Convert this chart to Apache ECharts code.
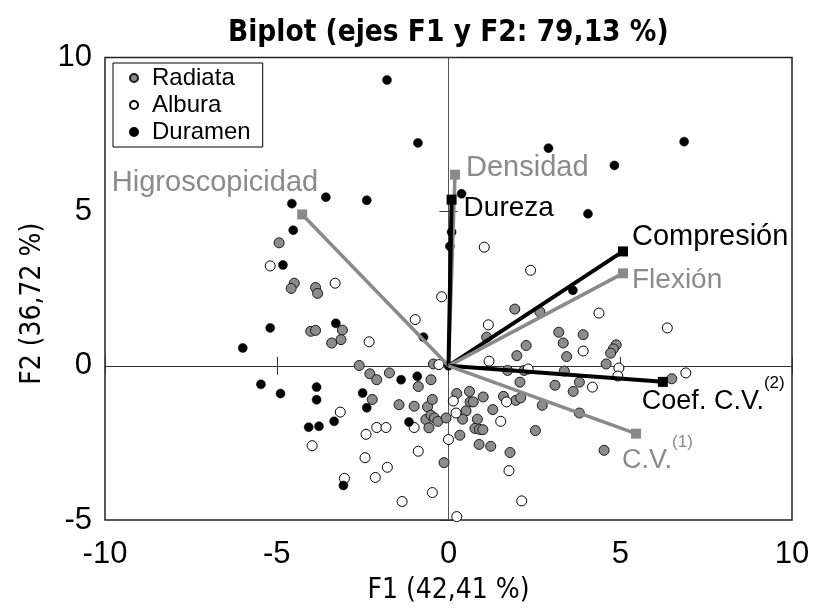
<!DOCTYPE html>
<html><head><meta charset="utf-8">
<script src="https://cdn.jsdelivr.net/npm/echarts@6/dist/echarts.min.js"></script>
<style>html,body{margin:0;padding:0;background:#fff}#c{width:815px;height:610px}</style>
</head><body><div id="c"></div>
<script>
const chartTitle = 'Biplot (ejes F1 y F2: 79,13 %)';
const xName = 'F1 (42,41 %)';
const yName = 'F2 (36,72 %)';
const xMin = -10, xMax = 10, xStep = 5;
const yMin = -5, yMax = 10, yStep = 5;
const seriesNames = ['Radiata', 'Albura', 'Duramen'];

const radiata = [
 [-4.93,3.99],[-4.49,2.68],[-4.58,2.51],[-3.87,2.54],[-3.81,2.35],[-4.01,1.12],[-3.87,1.15],[-3.09,1.16],[-3.13,0.85],[-3.4,0.74],
 [1.93,1.84],[2.66,1.75],[1.11,0.93],[3.21,1.09],[3.92,1.01],[3.34,0.74],[2.26,0.66],[1.99,0.33],[3.44,0.3],
 [4.88,0.68],[4.8,0.55],[4.72,0.41],[4.59,0.06],[3.37,-0.17],[3.1,-0.63],[3.81,-0.53],[3.63,-0.83],[6.5,-0.42],[3.81,-1.53],
 [-2.6,0.01],[-2.29,-0.26],[-2.09,-0.45],[-1.72,-0.23],[-0.88,-0.67],[-0.51,-0.45],[-0.44,0.06],
 [1.72,-0.15],[2.2,-0.15],[2.08,-0.53],
 [-2.22,-1.09],[-1.44,-1.26],[-1.0,-1.31],[-0.61,-1.33],[-0.47,-1.09],[0.24,-0.9],[0.61,-0.83],[0.63,-1.17],[0.72,-1.17],[1.01,-1.01],[1.6,-0.99],[1.96,-1.12],[2.1,-1.04],[2.73,-1.28],
 [0.51,-1.46],[1.29,-1.42],[-0.66,-1.74],[-0.51,-1.6],[-0.41,-1.69],[-0.31,-1.8],[-0.57,-2.01],[-0.07,-1.69],
 [0.41,-1.73],[0.84,-1.73],[0.77,-2.03],[0.9,-2.06],[1.0,-2.07],[2.53,-2.1],[0.33,-2.25],[0.89,-2.55],[1.23,-2.61],[1.79,-2.81],[-0.13,-3.14],[4.53,-2.74]
];
const albura = [
 [-5.19,3.24],[-3.3,2.68],[-2.31,0.78],[-0.97,1.5],[-0.2,2.24],[1.04,3.85],[2.39,3.1],[1.16,1.33],[3.92,0.48],[4.38,1.71],[6.37,1.23],[4.96,-0.07],[4.93,-0.33],[6.91,-0.23],[4.19,-0.69],
 [-0.28,0.04],[1.18,0.15],[2.32,-0.1],[0.14,-1.14],[1.69,-1.17],[0.22,-1.53],[-3.15,-1.5],[-1.0,-2.0],[-2.09,-2.0],[-1.82,-2.0],[-2.4,-2.22],[1.52,-1.8],[0.0,-2.39],[-0.88,-2.77],[-2.43,-2.98],[-1.78,-3.29],[1.76,-3.4],[-2.13,-3.62],[-3.03,-3.65],[-0.47,-4.11],[-1.35,-4.4],[2.13,-4.38],[0.24,-4.89],[-3.97,-2.59]
];
const duramen = [
 [-1.79,9.27],[-0.89,7.23],[-2.38,5.37],[0.38,5.58],[2.91,7.06],[6.86,7.27],[4.83,6.5],[4.06,4.93],[-4.56,5.26],[-3.57,5.47],[-4.52,4.4],[-4.82,3.27],[-5.19,1.23],[-3.28,1.38],[-5.99,0.58],[-0.73,0.93],[0.09,4.34],[0.04,3.88],[3.62,2.45],
 [-1.38,-0.45],[-0.91,-0.34],[0.0,0.0],[-2.5,-0.88],[-2.38,-1.36],[-1.15,-1.82],[-3.06,-3.88],
 [-5.46,-0.6],[-4.89,-0.9],[-3.84,-0.69],[-3.84,-1.1],[-3.33,-1.8],[-4.07,-1.99],[-3.77,-1.96]
];

const vectorNames = ['Higroscopicidad','Densidad','Dureza','Compresión','Flexión','Coef. C.V.','C.V.'];
const vectorSup   = ['','','','','','(2)','(1)'];
const vectorF1 = [-4.26, 0.19, 0.09, 5.08, 5.08, 6.24, 5.46];
const vectorF2 = [ 4.91, 6.20, 5.39, 3.71, 3.00, -0.52, -2.20];

// styles (kept separate from data)
const GRAY = '#8a8a8a';
const vecStyle = {
  'Higroscopicidad': {c: GRAY, w: 3.5, fs: 29, align: 'right', off: [16, -31]},
  'Densidad':        {c: GRAY, w: 3.5, fs: 29, align: 'left',  off: [11, -7]},
  'Dureza':          {c: '#000', w: 4, fs: 28, align: 'left',  off: [12, 9]},
  'Compresión':      {c: '#000', w: 4, fs: 29, align: 'left',  off: [9, -14]},
  'Flexión':         {c: GRAY, w: 3.5, fs: 28, align: 'left',  off: [9, 7]},
  'Coef. C.V.':      {c: '#000', w: 4, fs: 27, align: 'left',  off: [-21, 20]},
  'C.V.':            {c: GRAY, w: 3.5, fs: 27, align: 'left',  off: [-14, 27]}
};
const FONT = '"Liberation Sans", Arial, sans-serif';
const NARROW = '"Liberation Sans Narrow", "DejaVu Sans Condensed", sans-serif';

const vectorSeries = vectorNames.map((n, i) => {
  const s = vecStyle[n];
  const sup = vectorSup[i];
  return {
    type: 'line', name: n, z: 5, silent: true, animation: false,
    lineStyle: {color: s.c, width: s.w},
    itemStyle: {color: s.c},
    data: [
      {value: [0, 0], symbol: 'none', label: {show: false}},
      {value: [vectorF1[i], vectorF2[i]], symbol: 'rect', symbolSize: 10,
       label: {
         show: true, position: 'inside', align: s.align, verticalAlign: 'middle', offset: s.off,
         formatter: sup ? '{m|' + n + '}{s|' + sup + '}' : n,
         color: s.c, fontFamily: FONT, fontSize: s.fs,
         rich: {
           m: {color: s.c, fontFamily: FONT, fontSize: s.fs, lineHeight: 54, verticalAlign: 'middle'},
           s: {color: s.c, fontFamily: FONT, fontSize: 17, lineHeight: 17, verticalAlign: 'top'}
         }
       }}
    ]
  };
});

const axisCommon = {splitLine: {show: false}};
const option = {
  animation: false,
  backgroundColor: '#fff',
  title: {text: chartTitle, left: 228, top: 18, padding: 0,
    textStyle: {fontFamily: NARROW, fontWeight: 'bold', fontSize: 29.5, color: '#000'}},
  legend: {
    data: seriesNames, orient: 'vertical', left: 113, top: 63,
    icon: 'circle', itemWidth: 8, itemHeight: 8, itemGap: 3,
    padding: [3, 12, 3, 16],
    borderColor: '#000', borderWidth: 1,
    textStyle: {fontFamily: FONT, fontSize: 24, color: '#000', padding: [0, 0, 0, 9]}
  },
  grid: {left: 105, right: 23, top: 57.5, bottom: 88, show: true, borderColor: '#222', borderWidth: 1.5, backgroundColor: 'transparent'},
  xAxis: [
    Object.assign({type: 'value', min: xMin, max: xMax, interval: xStep, position: 'bottom',
      axisLine: {show: false, onZero: false}, axisTick: {show: false},
      axisLabel: {fontFamily: FONT, fontSize: 31, color: '#000', margin: 19},
      name: xName, nameLocation: 'middle', nameGap: 57,
      nameTextStyle: {fontFamily: NARROW, fontSize: 28, color: '#000'}}, axisCommon),
    Object.assign({type: 'value', min: xMin, max: xMax, interval: xStep, position: 'bottom',
      axisLine: {show: true, onZero: true, onZeroAxisIndex: 0, lineStyle: {color: '#333', width: 1}},
      axisTick: {show: true, inside: true, length: 9, lineStyle: {color: '#333', width: 1}},
      axisLabel: {show: false}}, axisCommon),
    Object.assign({type: 'value', min: xMin, max: xMax, interval: xStep, position: 'bottom',
      axisLine: {show: false, onZero: true, onZeroAxisIndex: 0},
      axisTick: {show: true, inside: false, length: 9, lineStyle: {color: '#333', width: 1}},
      axisLabel: {show: false}}, axisCommon)
  ],
  yAxis: [
    Object.assign({type: 'value', min: yMin, max: yMax, interval: yStep, position: 'left',
      axisLine: {show: false, onZero: false}, axisTick: {show: false},
      axisLabel: {fontFamily: FONT, fontSize: 31, color: '#000', margin: 13},
      name: yName, nameLocation: 'middle', nameGap: 58, nameRotate: 90,
      nameTextStyle: {fontFamily: NARROW, fontSize: 28, color: '#000', padding: [0, 30, 0, 0]}}, axisCommon),
    Object.assign({type: 'value', min: yMin, max: yMax, interval: yStep, position: 'left',
      axisLine: {show: true, onZero: true, onZeroAxisIndex: 0, lineStyle: {color: '#555', width: 1}},
      axisTick: {show: true, inside: true, length: 9, lineStyle: {color: '#333', width: 1}},
      axisLabel: {show: false}}, axisCommon),
    Object.assign({type: 'value', min: yMin, max: yMax, interval: yStep, position: 'left',
      axisLine: {show: false, onZero: true, onZeroAxisIndex: 0},
      axisTick: {show: true, inside: false, length: 9, lineStyle: {color: '#333', width: 1}},
      axisLabel: {show: false}}, axisCommon)
  ],
  series: [
    {type: 'scatter', name: 'Radiata', data: radiata, symbol: 'circle', symbolSize: 10, z: 3,
      itemStyle: {color: '#8c8c8c', borderColor: '#1a1a1a', borderWidth: 1, opacity: 1}},
    {type: 'scatter', name: 'Albura', data: albura, symbol: 'circle', symbolSize: 10, z: 3,
      itemStyle: {color: '#fff', borderColor: '#000', borderWidth: 1, opacity: 1}},
    {type: 'scatter', name: 'Duramen', data: duramen, symbol: 'circle', symbolSize: 9, z: 3,
      itemStyle: {color: '#000', borderColor: '#000', borderWidth: 0.5, opacity: 1}}
  ].concat(vectorSeries)
};
const chart = echarts.init(document.getElementById('c'), null, {renderer: 'canvas'});
chart.setOption(option);
</script></body></html>
